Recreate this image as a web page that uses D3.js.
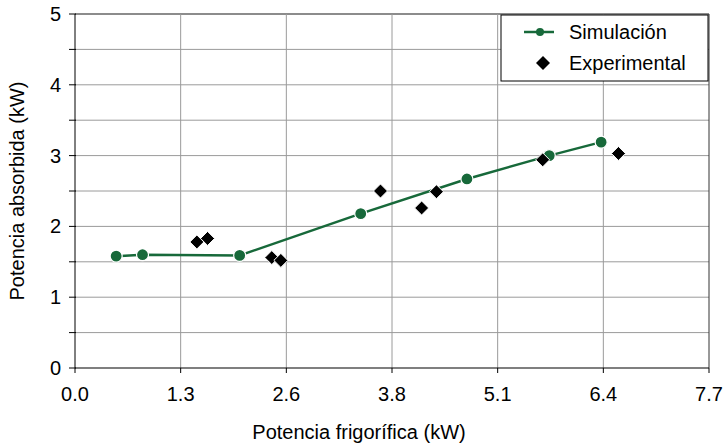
<!DOCTYPE html>
<html>
<head>
<meta charset="utf-8">
<script src="https://cdn.jsdelivr.net/npm/d3@7"></script>
<style>
  body { margin:0; background:#fff; }
  svg text { font-family: "Liberation Sans", Arial, sans-serif; fill:#000; }
</style>
</head>
<body>
<div id="chart"></div>
<script>
// ====== données
const SIM_X = [0.50, 0.82, 2.00, 3.47, 4.76, 5.76, 6.39];
const SIM_Y = [1.58, 1.60, 1.59, 2.18, 2.67, 3.00, 3.19];
const EXP_X = [1.48, 1.61, 2.39, 2.50, 3.71, 4.21, 4.39, 5.68, 6.60];
const EXP_Y = [1.78, 1.83, 1.56, 1.52, 2.50, 2.26, 2.49, 2.94, 3.03];
const X_TICK_LABELS = ["0.0","1.3","2.6","3.8","5.1","6.4","7.7"];
const Y_TICKS = [0,1,2,3,4,5];
const SERIES_NAMES = ["Simulación","Experimental"];
const X_TITLE = "Potencia frigorífica (kW)";
const Y_TITLE = "Potencia absorbida (kW)";

// ====== dimensions
const W = 724, H = 445, M = {t:14, r:15, b:77, l:75};
const GREEN = "#17693a";
const FS = 20;

const svg = d3.select("#chart").append("svg")
  .attr("width", W).attr("height", H);

const x = d3.scaleLinear().domain([0, 7.7]).range([M.l, W - M.r]);
const y = d3.scaleLinear().domain([0, 5]).range([H - M.b, M.t]);

const xTicks = X_TICK_LABELS.map((_, i) => i * 7.7 / 6);
const yGrid = d3.range(0, 5.01, 0.5);

// grille
svg.append("g").selectAll("line.hg").data(yGrid.filter(d => d > 0)).join("line")
  .attr("x1", M.l).attr("x2", W - M.r)
  .attr("y1", d => y(d)).attr("y2", d => y(d))
  .attr("stroke", d => d === 5 ? "#666" : "#9a9a9a").attr("stroke-width", d => d === 5 ? 1.5 : 1);
svg.append("g").selectAll("line.vg").data(xTicks.slice(1)).join("line")
  .attr("x1", d => x(d)).attr("x2", d => x(d))
  .attr("y1", M.t).attr("y2", H - M.b)
  .attr("stroke", (d, i, a) => i === a.length - 1 ? "#333" : "#9a9a9a").attr("stroke-width", 1);

// axe y
const gy = svg.append("g").attr("transform", `translate(${M.l},0)`);
gy.append("line").attr("x1", 0).attr("x2", 0).attr("y1", M.t).attr("y2", H - M.b).attr("stroke", "#000");
gy.selectAll("line.t").data(yGrid).join("line")
  .attr("x1", -6).attr("x2", 1).attr("y1", d => y(d)).attr("y2", d => y(d)).attr("stroke", "#000");
gy.selectAll("text").data(Y_TICKS).join("text")
  .attr("x", -14).attr("y", d => y(d)).attr("dy", "0.35em")
  .attr("text-anchor", "end").attr("font-size", FS).text(d => d);

// axe x
const gx = svg.append("g").attr("transform", `translate(0,${H - M.b})`);
gx.append("line").attr("x1", M.l).attr("x2", W - M.r).attr("stroke", "#000").attr("stroke-width", 1.2);
gx.selectAll("line.t").data(xTicks).join("line")
  .attr("x1", d => x(d)).attr("x2", d => x(d)).attr("y1", 0).attr("y2", 5).attr("stroke", "#000");
gx.selectAll("text").data(xTicks).join("text")
  .attr("x", d => x(d)).attr("y", 33)
  .attr("text-anchor", "middle").attr("font-size", FS)
  .text((d, i) => X_TICK_LABELS[i]);

// titres
svg.append("text").attr("x", 359).attr("y", 439)
  .attr("text-anchor", "middle").attr("font-size", FS).text(X_TITLE);
svg.append("text").attr("transform", `translate(24,${(M.t + H - M.b) / 2}) rotate(-90)`)
  .attr("text-anchor", "middle").attr("font-size", FS).text(Y_TITLE);

// série simulation
const sim = SIM_X.map((v, i) => ({x: v, y: SIM_Y[i]}));
svg.append("path").datum(sim)
  .attr("fill", "none").attr("stroke", GREEN).attr("stroke-width", 2.5)
  .attr("d", d3.line().x(d => x(d.x)).y(d => y(d.y)));
svg.append("g").selectAll("circle").data(sim).join("circle")
  .attr("cx", d => x(d.x)).attr("cy", d => y(d.y)).attr("r", 6)
  .attr("fill", GREEN).attr("stroke", "#fff").attr("stroke-width", 1.2);

// série expérimentale
const exp = EXP_X.map((v, i) => ({x: v, y: EXP_Y[i]}));
const diamond = d3.symbol().type(d3.symbolDiamond2).size(125);
svg.append("g").selectAll("path").data(exp).join("path")
  .attr("transform", d => `translate(${x(d.x)},${y(d.y)})`)
  .attr("d", diamond).attr("fill", "#000").attr("stroke", "#fff").attr("stroke-width", 1);

// légende
const lg = svg.append("g");
lg.append("rect").attr("x", 501).attr("y", 15).attr("width", 207).attr("height", 66)
  .attr("fill", "#fff").attr("stroke", "#000").attr("stroke-width", 1);
lg.append("line").attr("x1", 524).attr("x2", 554).attr("y1", 32).attr("y2", 32)
  .attr("stroke", GREEN).attr("stroke-width", 2.5);
lg.append("circle").attr("cx", 540).attr("cy", 32).attr("r", 4).attr("fill", GREEN);
lg.append("path").attr("transform", "translate(543,63)").attr("d", diamond).attr("fill", "#000");
lg.selectAll("text").data(SERIES_NAMES).join("text")
  .attr("x", 569).attr("y", (d, i) => 32 + i * 31).attr("dy", "0.35em")
  .attr("font-size", FS).text(d => d);
</script>
</body>
</html>
